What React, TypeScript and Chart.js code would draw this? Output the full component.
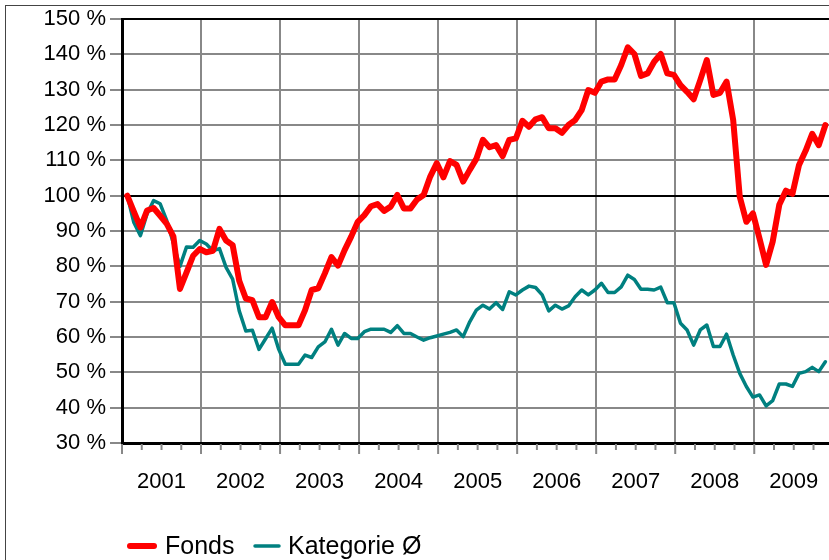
import React, { useEffect, useRef } from 'react';
import { Chart, registerables } from 'chart.js';

Chart.register(...registerables);

// ---- DATA ----
const years = ['2001', '2002', '2003', '2004', '2005', '2006', '2007', '2008', '2009'];
// monthly values (%) from Jan 2001 onwards
const fonds = [
  100, 95.5, 91, 95.8, 96.5, 94.3, 92, 88.5, 73.6, 78.3, 83, 84.9,
  84, 84.4, 90.6, 87.3, 86, 75.9, 70.9, 70.4, 65.6, 65.6, 69.9, 65.6,
  63.3, 63.3, 63.3, 67.6, 73.3, 73.8, 78, 82.6, 80.2, 84.6, 88.4, 92.6,
  94.5, 97, 97.6, 95.7, 96.9, 100.2, 96.4, 96.4, 98.9, 100.2, 105.4, 109.2,
  105.2, 109.8, 108.7, 104, 107.3, 110.4, 115.8, 113.7, 114.3, 111.2, 115.8, 116.2,
  121.2, 119.5, 121.6, 122.2, 119.1, 119.1, 117.8, 120, 121.4, 124.2, 129.9, 129.1,
  132.3, 132.9, 132.9, 137, 142, 140.1, 133.9, 134.6, 137.9, 140.1, 134.6, 134.2,
  131.3, 129.4, 127.3, 132.7, 138.4, 128.5, 129.1, 132.3, 121.4, 99.7, 92.6, 95,
  87.9, 80.4, 87, 97.4, 101.4, 100.5, 108.7, 112.7, 117.5, 114.3, 120,
];
const kategorie = [
  100, 92.4, 88.7, 94.8, 98.6, 97.7, 92.9, 86.5, 80, 85.5, 85.4, 87.3,
  86.3, 84.4, 85, 79.7, 76.4, 67.4, 61.7, 61.9, 56.5, 59.5, 62.5, 56.5,
  52.3, 52.3, 52.3, 54.9, 54.2, 57.2, 58.6, 62.2, 57.7, 61, 59.6, 59.6,
  61.5, 62.2, 62.2, 62.2, 61.3, 63.2, 61, 61, 60, 59.1, 59.8, 60.3,
  60.8, 61.3, 62, 60.1, 64.3, 67.6, 69, 67.9, 69.7, 67.8, 72.8, 71.9,
  73.3, 74.4, 74, 71.9, 67.4, 69, 67.9, 68.8, 71.4, 73.3, 71.9, 73.3,
  75.2, 72.6, 72.6, 74.2, 77.5, 76.3, 73.5, 73.5, 73.3, 74.1, 69.7, 69.7,
  63.9, 62, 57.7, 62, 63.4, 57.3, 57.3, 60.8, 54.9, 49.7, 46, 43,
  43.6, 40.5, 42, 46.7, 46.7, 46, 49.7, 50.2, 51.4, 50.2, 53,
];
const yTickValues = [30, 40, 50, 60, 70, 80, 90, 100, 110, 120, 130, 140, 150];
const seriesLabels = ['Fonds', 'Kategorie Ø'];
const firstPointMonth = 0.8; // months after 1 Jan 2001 of the first observation
const visibleMonths = 107.35;

const FONT = '"Liberation Sans", Arial, sans-serif';

const decorPlugin = {
  id: 'decor',
  afterDraw(chart: any) {
    const { ctx, chartArea, scales } = chart;
    const xs = scales.x;
    ctx.save();
    // outer frame
    ctx.strokeStyle = '#444';
    ctx.lineWidth = 1;
    ctx.strokeRect(5.5, 5.5, 3000, 3000);
    // quarterly / yearly tick marks
    ctx.strokeStyle = '#888';
    ctx.lineWidth = 2;
    for (let m = 0; m <= years.length * 12; m += 3) {
      const px = xs.getPixelForValue(m);
      if (px > chart.width + 2) break;
      const len = m % 12 === 0 ? 11 : 7;
      ctx.beginPath();
      ctx.moveTo(px, chartArea.bottom + 1);
      ctx.lineTo(px, chartArea.bottom + len);
      ctx.stroke();
    }
    // year labels centred in each year
    ctx.fillStyle = '#000';
    ctx.font = '22px ' + FONT;
    ctx.textAlign = 'center';
    ctx.textBaseline = 'alphabetic';
    years.forEach((y, k) => {
      ctx.fillText(y, xs.getPixelForValue(k * 12 + 6), chartArea.bottom + 45);
    });
    // legend
    const ds = chart.data.datasets;
    const ly = 546;
    ctx.lineCap = 'round';
    ctx.font = '25px ' + FONT;
    ctx.textAlign = 'left';
    const items = [
      { x0: 130, x1: 154, tx: 165 },
      { x0: 255, x1: 279, tx: 288 },
    ];
    items.forEach((it, i) => {
      ctx.strokeStyle = ds[i].borderColor;
      ctx.lineWidth = ds[i].borderWidth;
      ctx.beginPath();
      ctx.moveTo(it.x0, ly);
      ctx.lineTo(it.x1, ly);
      ctx.stroke();
      ctx.fillStyle = '#000';
      ctx.fillText(ds[i].label, it.tx, ly + 8);
    });
    ctx.restore();
  },
};

export default function App() {
  const ref = useRef<HTMLCanvasElement | null>(null);

  useEffect(() => {
    if (!ref.current) return;
    const toPoints = (arr: number[]) => arr.map((v, i) => ({ x: i + firstPointMonth, y: v }));
    const chart = new Chart(ref.current, {
      type: 'line',
      data: {
        datasets: [
          {
            label: seriesLabels[0],
            data: toPoints(fonds),
            borderColor: '#ff0000',
            borderWidth: 6,
            pointRadius: 0,
            tension: 0,
            borderJoinStyle: 'round',
            borderCapStyle: 'round',
            fill: false,
          },
          {
            label: seriesLabels[1],
            data: toPoints(kategorie),
            borderColor: '#008080',
            borderWidth: 3.5,
            pointRadius: 0,
            tension: 0,
            borderJoinStyle: 'round',
            borderCapStyle: 'round',
            fill: false,
          },
        ],
      },
      options: {
        animation: false,
        responsive: false,
        devicePixelRatio: 1,
        layout: { padding: { top: 19, bottom: 117, left: 0, right: 0 } },
        plugins: { legend: { display: false }, tooltip: { enabled: false } },
        scales: {
          x: {
            type: 'linear',
            min: 0,
            max: visibleMonths,
            afterBuildTicks: (scale: any) => {
              scale.ticks = years.map((_, k) => ({ value: k * 12 }));
            },
            afterFit: (scale: any) => {
              scale.height = 0;
            },
            ticks: { display: false },
            grid: {
              color: '#888',
              lineWidth: 2,
              drawTicks: false,
            },
            border: { display: true, color: '#000', width: 3 },
          },
          y: {
            type: 'linear',
            min: 30,
            max: 150,
            afterBuildTicks: (scale: any) => {
              scale.ticks = yTickValues.map((v) => ({ value: v }));
            },
            afterFit: (scale: any) => {
              scale.width = 122;
            },
            ticks: {
              color: '#000',
              font: { family: FONT, size: 22 },
              padding: 4,
              callback: (v: any) => v + ' %',
            },
            grid: {
              color: (c: any) => (c.tick && (c.tick.value === 100 || c.tick.value === 150) ? '#000' : '#888'),
              tickColor: '#888',
              lineWidth: 2,
              tickLength: 12,
            },
            border: { display: true, color: '#000', width: 3 },
          },
        },
      },
      plugins: [decorPlugin],
    } as any);
    return () => chart.destroy();
  }, []);

  return (
    <div style={{ position: 'absolute', left: 0, top: 0, width: 829, height: 560, overflow: 'hidden', background: '#fff' }}>
      <canvas ref={ref} width={829} height={560} style={{ display: 'block', width: 829, height: 560 }} />
    </div>
  );
}
